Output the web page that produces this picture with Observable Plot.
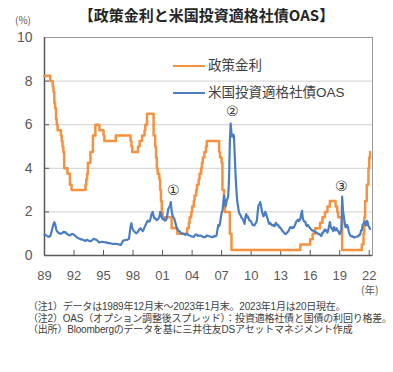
<!DOCTYPE html>
<html><head><meta charset="utf-8">
<script src="https://cdn.jsdelivr.net/npm/d3@7"></script>
<script src="https://cdn.jsdelivr.net/npm/@observablehq/plot@0.6"></script>
<style>
body{margin:0;background:#fff;}
#wrap{position:relative;width:393px;height:372px;overflow:hidden;font-family:"Noto Sans CJK JP","Noto Sans",sans-serif;color:#404040;}
#chart{position:absolute;left:0;top:0;}
.abs{position:absolute;white-space:nowrap;}
#title{left:0;width:413px;text-align:center;top:6px;font-size:15px;font-weight:bold;color:#262626;line-height:1.2;}
#unit{left:15px;top:14px;font-size:10px;color:#595959;line-height:1.1;}
#year{left:361px;top:284px;font-size:10.5px;color:#595959;line-height:1.1;}
.note{position:absolute;left:28px;font-family:"Liberation Sans","Noto Sans CJK JP",sans-serif;font-size:10px;line-height:11px;color:#404040;letter-spacing:-0.2px;white-space:nowrap;}
.leg{position:absolute;font-family:"Liberation Sans","Noto Sans CJK JP",sans-serif;font-size:13.5px;line-height:1;color:#404040;white-space:nowrap;}
.legline{position:absolute;height:2.5px;width:32px;}
</style></head>
<body><div id="wrap">
<div id="chart"></div>
<div id="title" class="abs">【政策金利と米国投資適格社債OAS】</div>
<div id="unit" class="abs">(%)</div>
<div id="year" class="abs">(年)</div>
<div id="notes"></div>
<div id="legend"></div>
</div>
<script>
// ---- Data ----
const seriesNames = ["政策金利", "米国投資適格社債OAS"];
const seriesColors = ["#F7913D", "#4A7DC4"];
const noteLines = [
  "（注1）データは1989年12月末～2023年1月末。2023年1月は20日現在。",
  "（注2）OAS（オプション調整後スプレッド）：投資適格社債と国債の利回り格差。",
  "（出所）Bloombergのデータを基に三井住友DSアセットマネジメント作成"
];

// Policy rate (upper bound), month in which each level took effect
const policyDates = ["1989-12","1990-07","1990-10","1990-11","1990-12","1991-01","1991-02","1991-03","1991-04","1991-08","1991-09","1991-10","1991-11","1991-12","1992-04","1992-07","1992-09","1994-02","1994-03","1994-04","1994-05","1994-08","1994-11","1995-02","1995-07","1995-12","1996-01","1997-03","1998-09","1998-10","1998-11","1999-06","1999-08","1999-11","2000-02","2000-03","2000-05","2001-01","2001-03","2001-04","2001-05","2001-06","2001-08","2001-09","2001-10","2001-11","2001-12","2002-11","2003-06","2004-06","2004-08","2004-09","2004-11","2004-12","2005-02","2005-03","2005-05","2005-06","2005-08","2005-09","2005-11","2005-12","2006-01","2006-03","2006-05","2006-06","2007-09","2007-10","2007-12","2008-01","2008-03","2008-04","2008-10","2008-12","2015-12","2016-12","2017-03","2017-06","2017-12","2018-03","2018-06","2018-09","2018-12","2019-07","2019-09","2019-10","2020-03","2022-03","2022-05","2022-06","2022-07","2022-09","2022-11","2022-12","2023-01"];
const policyRates = [8.25,8.0,7.75,7.5,7.0,6.75,6.25,6.0,5.75,5.5,5.25,5.0,4.75,4.0,3.75,3.25,3.0,3.25,3.5,3.75,4.25,4.75,5.5,6.0,5.75,5.5,5.25,5.5,5.25,5.0,4.75,5.0,5.25,5.5,5.75,6.0,6.5,5.5,5.0,4.5,4.0,3.75,3.5,3.0,2.5,2.0,1.75,1.25,1.0,1.25,1.5,1.75,2.0,2.25,2.5,2.75,3.0,3.25,3.5,3.75,4.0,4.25,4.5,4.75,5.0,5.25,4.75,4.5,4.25,3.0,2.25,2.0,1.0,0.25,0.5,0.75,1.0,1.25,1.5,1.75,2.0,2.25,2.5,2.25,2.0,1.75,0.25,0.5,1.0,1.75,2.5,3.25,4.0,4.5,4.75];

// US IG corporate OAS, monthly from 1989-12 to 2023-01
const oasStart = "1989-12";
const oasValues = [
  0.95,
  0.95,0.92,0.90,0.88,0.86,0.86,0.90,1.00,1.15,1.30,1.45,1.53,
  1.45,1.25,1.12,1.08,1.05,1.02,1.00,1.00,1.02,1.05,1.08,1.05,
  1.08,1.05,1.00,0.98,0.95,0.93,0.92,0.95,0.98,0.99,0.97,0.95,
  0.92,0.88,0.85,0.82,0.80,0.78,0.77,0.75,0.74,0.73,0.72,0.70,
  0.68,0.67,0.70,0.72,0.70,0.68,0.66,0.66,0.67,0.70,0.74,0.76,
  0.76,0.74,0.72,0.70,0.66,0.62,0.60,0.61,0.62,0.63,0.62,0.62,
  0.61,0.60,0.60,0.59,0.58,0.57,0.57,0.56,0.55,0.54,0.53,0.53,
  0.53,0.53,0.54,0.53,0.52,0.52,0.50,0.50,0.49,0.55,0.62,0.68,
  0.70,0.70,0.71,0.72,0.72,0.74,0.76,1.05,1.35,1.48,1.25,1.18,
  1.12,1.08,1.05,1.02,1.05,1.10,1.15,1.22,1.25,1.20,1.15,1.12,
  1.20,1.30,1.38,1.45,1.55,1.60,1.55,1.55,1.65,1.82,1.95,2.00,
  1.80,1.70,1.72,1.65,1.62,1.65,1.70,1.75,2.00,1.95,1.75,1.68,
  1.65,1.68,1.60,1.62,1.70,1.90,2.15,2.20,2.30,2.45,2.05,1.85,
  1.75,1.70,1.60,1.45,1.30,1.22,1.15,1.12,1.10,1.05,1.02,1.00,
  1.00,0.98,0.97,0.95,1.00,0.98,0.95,0.93,0.92,0.90,0.88,0.87,
  0.86,0.85,0.90,0.95,0.97,0.94,0.90,0.92,0.90,0.92,0.90,0.88,
  0.86,0.84,0.85,0.84,0.88,0.92,0.90,0.90,0.88,0.87,0.86,0.85,
  0.84,0.86,0.90,0.88,0.88,0.95,1.20,1.40,1.35,1.45,1.75,1.95,
  2.05,2.40,2.75,2.45,2.25,2.50,2.60,2.70,3.50,5.20,6.05,5.60,
  5.45,5.55,5.50,4.60,3.70,3.00,2.50,2.25,2.00,1.90,1.85,1.75,
  1.70,1.65,1.55,1.45,1.75,1.90,1.75,1.80,1.70,1.60,1.60,1.55,
  1.45,1.40,1.40,1.38,1.45,1.50,1.60,2.00,2.30,2.35,2.45,2.30,
  2.05,1.90,1.80,1.85,2.00,1.95,1.80,1.70,1.55,1.45,1.50,1.45,
  1.40,1.38,1.40,1.35,1.35,1.50,1.45,1.40,1.40,1.30,1.30,1.25,
  1.20,1.12,1.10,1.05,1.00,0.98,1.02,1.05,1.10,1.15,1.25,1.30,
  1.30,1.25,1.30,1.28,1.35,1.45,1.55,1.58,1.65,1.58,1.60,1.70,
  1.90,2.05,1.70,1.60,1.55,1.55,1.40,1.35,1.40,1.35,1.30,1.25,
  1.20,1.15,1.15,1.12,1.10,1.08,1.05,1.05,1.02,0.98,0.98,0.96,
  0.90,0.92,1.05,1.05,1.15,1.20,1.12,1.15,1.05,1.15,1.35,1.53,
  1.35,1.25,1.20,1.12,1.30,1.20,1.15,1.25,1.18,1.12,1.05,0.98,
  1.05,1.20,2.70,2.05,1.80,1.50,1.30,1.30,1.40,1.30,1.10,0.98,
  0.90,0.88,0.90,0.86,0.84,0.82,0.86,0.86,0.86,0.87,0.93,0.92,
  0.98,1.15,1.15,1.40,1.45,1.55,1.50,1.38,1.59,1.55,1.35,1.30,
  1.22
];

const xTickYears = [1989,1992,1995,1998,2001,2004,2007,2010,2013,2016,2019,2022];
const yTicks = [0,2,4,6,8,10];
const yGrid = [2,4,6,8];

const markLabels = ["①","②","③"];
const markDates = ["2003-01","2009-01","2020-02"];
const markValues = [2.98,6.6,3.17];

// ---- Build tables ----
const ym = s => { const [y,m] = s.split("-").map(Number); return new Date(Date.UTC(y, m-1, 1)); };
const policy = policyDates.map((d,i) => ({date: ym(d), v: policyRates[i]}));
const s0 = ym(oasStart);
const oas = oasValues.map((v,i) => ({date: new Date(Date.UTC(s0.getUTCFullYear(), s0.getUTCMonth()+i, 1)), v}));
const xTicks = xTickYears.map(y => new Date(Date.UTC(y, 11, 1)));
const marks = markLabels.map((t,i) => ({t, date: ym(markDates[i]), v: markValues[i]}));

const W = 393, H = 300, mL = 44, mR = 21, mT = 37, mB = 45;
const plotH = H - mT - mB, plotW = W - mL - mR;

const chart = Plot.plot({
  width: W, height: H,
  marginLeft: mL, marginRight: mR, marginTop: mT, marginBottom: mB,
  style: {fontFamily: "'Liberation Sans', 'DejaVu Sans', sans-serif", background: "#fff", color: "#595959"},
  x: {type: "utc", domain: [ym("1989-12"), ym("2023-04")]},
  y: {domain: [0, 10]},
  marks: [
    Plot.gridY(yGrid, {stroke: "#d0d0d0", strokeOpacity: 1}),
    Plot.frame({stroke: "#9a9a9a"}),
    Plot.ruleY([0], {stroke: "#595959", strokeWidth: 1.5}),
    Plot.ruleX([ym("1989-12")], {stroke: "#595959", strokeWidth: 1.5}),
    Plot.tickX(xTicks, {x: d => d, insetTop: plotH - 5, stroke: "#595959"}),
    Plot.tickY(yGrid, {y: d => d, insetRight: plotW - 5, stroke: "#595959"}),
    Plot.axisX({ticks: xTicks, tickSize: 0, tickPadding: 15, tickFormat: d3.utcFormat("%y"), fontSize: 13, fill: "#595959", label: null}),
    Plot.axisY({ticks: yTicks, tickSize: 0, tickPadding: 12, fontSize: 14, fill: "#595959", label: null}),
    Plot.line(policy, {x: "date", y: "v", curve: "step-after", stroke: seriesColors[0], strokeWidth: 2.5}),
    Plot.line(oas, {x: "date", y: "v", stroke: seriesColors[1], strokeWidth: 2.2}),
    Plot.text(marks, {x: "date", y: "v", text: "t", fontSize: 14, fill: "#333", fontFamily: "'Liberation Sans', 'DejaVu Sans', 'Noto Sans CJK JP', sans-serif"})
  ]
});
document.getElementById("chart").appendChild(chart);

// notes
const notes = document.getElementById("notes");
noteLines.forEach((s,i) => {
  const d = document.createElement("div");
  d.className = "note"; d.textContent = s;
  d.style.top = (301 + i * 11.5) + "px";
  notes.appendChild(d);
});

// legend
const leg = document.getElementById("legend");
const legTops = [66, 93];
seriesNames.forEach((n,i) => {
  const l = document.createElement("div");
  l.className = "legline";
  l.style.left = "173px"; l.style.top = (legTops[i]-1.25) + "px"; l.style.background = seriesColors[i];
  leg.appendChild(l);
  const t = document.createElement("div");
  t.className = "leg"; t.textContent = n;
  t.style.left = "208px"; t.style.top = (legTops[i]-7) + "px";
  leg.appendChild(t);
});
</script>
</body></html>
